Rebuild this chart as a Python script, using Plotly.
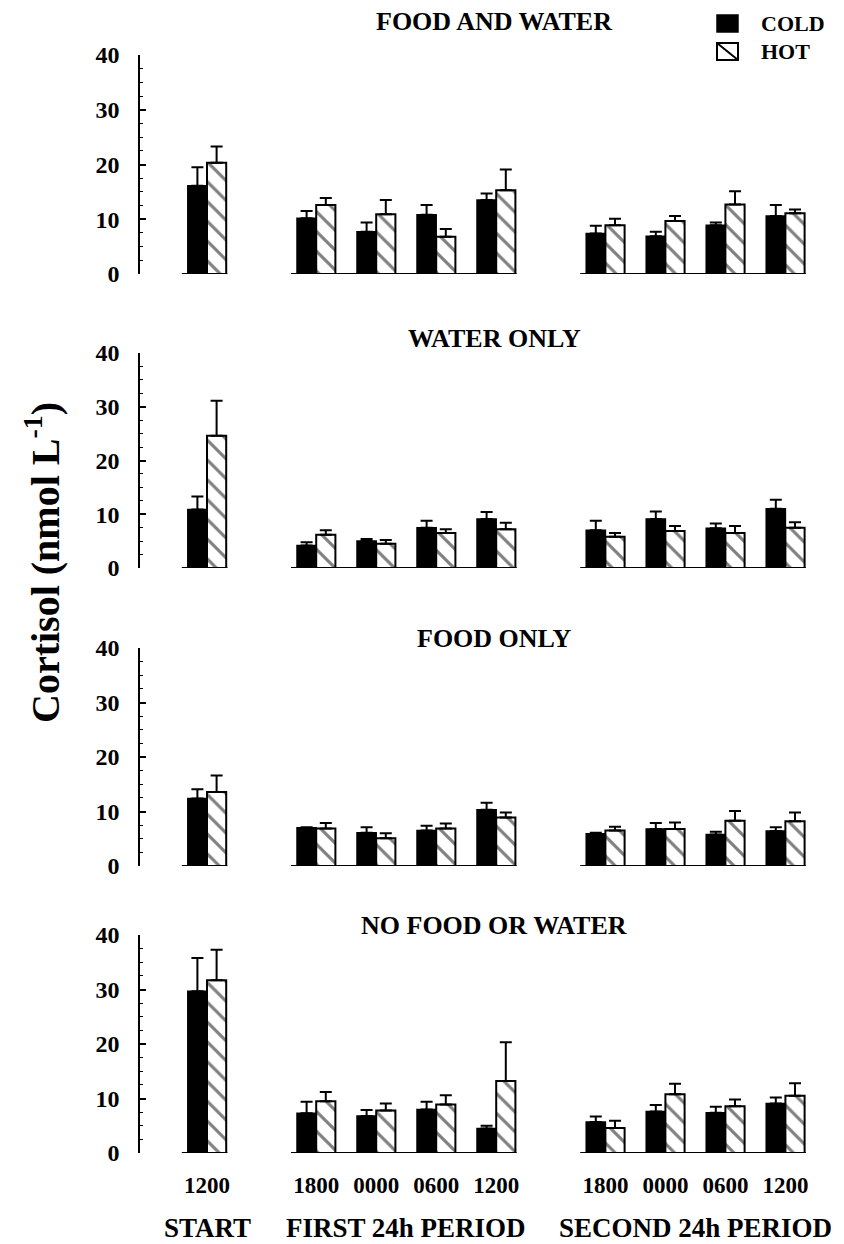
import plotly.graph_objects as go

# ---------------- data ----------------
panels = ["FOOD AND WATER", "WATER ONLY", "FOOD ONLY", "NO FOOD OR WATER"]
tick_labels = ["1200", "1800", "0000", "0600", "1200", "1800", "0000", "0600", "1200"]
group_of = [0, 1, 1, 1, 1, 2, 2, 2, 2]
group_names = ["START", "FIRST 24h PERIOD", "SECOND 24h PERIOD"]
legend_names = ["COLD", "HOT"]

cold_fw = [16.1, 10.2, 7.7, 10.8, 13.5, 7.4, 6.9, 8.9, 10.6]
cold_fw_err = [3.4, 1.3, 1.7, 1.8, 1.2, 1.4, 0.8, 0.5, 2.0]
hot_fw = [20.3, 12.6, 10.9, 6.8, 15.3, 8.9, 9.7, 12.7, 11.1]
hot_fw_err = [3.0, 1.3, 2.6, 1.4, 3.8, 1.2, 0.9, 2.4, 0.7]

cold_wo = [10.9, 4.2, 5.0, 7.5, 9.1, 7.0, 9.1, 7.4, 11.0]
cold_wo_err = [2.4, 0.6, 0.4, 1.3, 1.3, 1.8, 1.4, 0.9, 1.7]
hot_wo = [24.6, 6.2, 4.5, 6.5, 7.2, 5.8, 6.9, 6.5, 7.5]
hot_wo_err = [6.5, 0.8, 0.7, 0.7, 1.2, 0.7, 0.9, 1.3, 1.0]

cold_fo = [12.4, 7.0, 6.1, 6.5, 10.3, 5.9, 6.8, 5.8, 6.4]
cold_fo_err = [1.7, 0.1, 1.0, 0.9, 1.3, 0.2, 1.1, 0.5, 0.7]
hot_fo = [13.6, 6.9, 5.1, 6.9, 8.9, 6.5, 6.8, 8.3, 8.2]
hot_fo_err = [3.0, 1.0, 0.9, 0.9, 0.9, 0.7, 1.2, 1.8, 1.6]

cold_nf = [29.7, 7.3, 6.8, 8.0, 4.5, 5.7, 7.6, 7.4, 9.1]
cold_nf_err = [6.1, 2.1, 1.1, 1.4, 0.5, 1.0, 1.2, 1.1, 1.1]
hot_nf = [31.7, 9.5, 7.8, 8.9, 13.2, 4.6, 10.8, 8.6, 10.5]
hot_nf_err = [5.6, 1.7, 1.3, 1.7, 7.1, 1.3, 1.9, 1.2, 2.3]

series = [
    (cold_fw, cold_fw_err, hot_fw, hot_fw_err),
    (cold_wo, cold_wo_err, hot_wo, hot_wo_err),
    (cold_fo, cold_fo_err, hot_fo, hot_fo_err),
    (cold_nf, cold_nf_err, hot_nf, hot_nf_err),
]

# ---------------- layout helpers ----------------
W, H = 844, 1244
SHIFT = 8  # page body margin compensation
GROUP_GAP = 0.82
xpos = [i + GROUP_GAP * g for i, g in enumerate(group_of)]
px_per_unit = 60.0
x0_px = 207.0 - SHIFT
left_px, right_px = 140.0 - SHIFT, 830.0 - SHIFT
xrange = [(left_px - x0_px) / px_per_unit, (right_px - x0_px) / px_per_unit]
panel_px = [(55, 274), (353, 568), (648, 866), (935, 1153)]
title_px = [22, 338, 638, 926]


def px(xp):
    return (xp - SHIFT) / W


def py(yp):
    return 1 - (yp - SHIFT) / H


FONT = "Liberation Serif"
fig = go.Figure()

for k, (cm, ce, hm, he) in enumerate(series):
    xa = "x" if k == 0 else f"x{k+1}"
    ya = "y" if k == 0 else f"y{k+1}"
    n = len(cm)
    fig.add_trace(go.Bar(
        x=xpos, y=cm, name=legend_names[0], xaxis=xa, yaxis=ya,
        marker=dict(color="black", line=dict(color="black", width=1.5)),
        error_y=dict(type="data", symmetric=False, array=ce, arrayminus=[0] * n,
                     color="black", thickness=2, width=6),
        showlegend=False,
    ))
    fig.add_trace(go.Bar(
        x=xpos, y=hm, name=legend_names[1], xaxis=xa, yaxis=ya,
        marker=dict(color="white", line=dict(color="black", width=2),
                    pattern=dict(shape="\\", fgcolor="black", bgcolor="white",
                                 size=14, solidity=0.22)),
        error_y=dict(type="data", symmetric=False, array=he, arrayminus=[0] * n,
                     color="black", thickness=2, width=6),
        showlegend=False,
    ))

    top, bot = panel_px[k]
    ydom = [py(bot), py(top)]
    xkey = "xaxis" if k == 0 else f"xaxis{k+1}"
    ykey = "yaxis" if k == 0 else f"yaxis{k+1}"
    last = (k == len(series) - 1)
    fig.update_layout({
        xkey: dict(domain=[left_px / W, right_px / W], range=xrange,
                   anchor=ya, showgrid=False, zeroline=False, showline=False,
                   automargin=False,
                   tickmode="array", tickvals=xpos if last else [],
                   ticktext=tick_labels if last else [],
                   showticklabels=last, ticks="", ticklabelstandoff=16,
                   tickfont=dict(family=FONT, size=23, color="black", weight="bold")),
        ykey: dict(domain=ydom, range=[0, 40], anchor=xa, showgrid=False,
                   automargin=False,
                   zeroline=False, showline=True, linecolor="black", linewidth=1.5,
                   tickvals=[0, 10, 20, 30, 40], ticks="inside", ticklen=6,
                   tickwidth=1.5, tickcolor="black",
                   minor=dict(dtick=2.5, ticks="inside", ticklen=3, tickcolor="black",
                              tickwidth=1.2),
                   ticklabelstandoff=14,
                   tickfont=dict(family=FONT, size=24, color="black", weight="bold")),
    })

    # broken x-axis baseline segments, one per group
    for g in range(len(group_names)):
        gx = [xpos[i] for i in range(len(xpos)) if group_of[i] == g]
        fig.add_shape(type="line", xref=xa, yref=ya,
                      x0=min(gx) - 0.42, x1=max(gx) + 0.34, y0=0, y1=0,
                      line=dict(color="black", width=2))

    fig.add_annotation(text=panels[k], xref="paper", yref="paper",
                       x=px(494), y=py(title_px[k]), showarrow=False,
                       xanchor="center", yanchor="middle",
                       font=dict(family=FONT, size=26, color="black", weight="bold"))

# group labels under bottom panel
for g, name in enumerate(group_names):
    gx = [xpos[i] for i in range(len(xpos)) if group_of[i] == g]
    fig.add_annotation(text=name, xref="x4", yref="paper",
                       x=(min(gx) + max(gx)) / 2, y=py(1228), showarrow=False,
                       xanchor="center", yanchor="middle",
                       font=dict(family=FONT, size=27, color="black", weight="bold"))

# y-axis title
fig.add_annotation(text="Cortisol (nmol L<sup>-1</sup>)", xref="paper", yref="paper",
                   x=px(42), y=py(563), showarrow=False, textangle=-90,
                   xanchor="center", yanchor="middle",
                   font=dict(family=FONT, size=40, color="black", weight="bold"))

# legend (key boxes + labels)
fig.add_shape(type="rect", xref="paper", yref="paper",
              x0=px(717), x1=px(738), y0=py(32), y1=py(15),
              fillcolor="black", line=dict(color="black", width=1.5))
fig.add_shape(type="rect", xref="paper", yref="paper",
              x0=px(717), x1=px(738), y0=py(60), y1=py(43),
              fillcolor="white", line=dict(color="black", width=2))
fig.add_shape(type="line", xref="paper", yref="paper",
              x0=px(717), x1=px(738), y0=py(43), y1=py(60),
              line=dict(color="black", width=2))
for name, yc in zip(legend_names, [24, 52]):
    fig.add_annotation(text=name, xref="paper", yref="paper",
                       x=px(760), y=py(yc), showarrow=False,
                       xanchor="left", yanchor="middle", borderpad=0,
                       font=dict(family=FONT, size=22, color="black", weight="bold"))

fig.update_layout(
    width=W, height=H, margin=dict(l=0, r=0, t=0, b=0),
    paper_bgcolor="white", plot_bgcolor="white",
    barmode="group", bargap=0.36, bargroupgap=0,
    font=dict(family=FONT, color="black"),
    showlegend=False,
)

fig.write_html("out.html")
